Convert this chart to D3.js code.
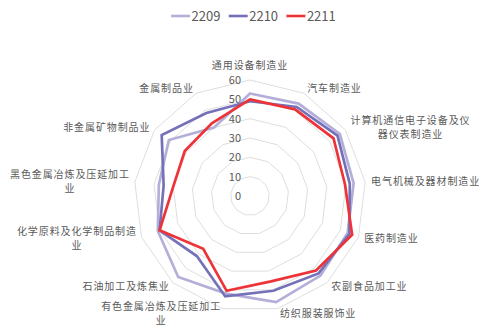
<!DOCTYPE html>
<html>
<head>
<meta charset="utf-8">
<script src="https://cdn.jsdelivr.net/npm/d3@7"></script>
<style>
  html, body { margin: 0; padding: 0; background: #fff; }
  svg { display: block; }
  text { font-family: "Noto Sans CJK SC", "Noto Sans", sans-serif; fill: #595959; }
</style>
</head>
<body>
<svg id="chart" width="480" height="329"></svg>
<script>
// Industry categories, clockwise from the top
const categories = [
  "通用设备制造业",
  "汽车制造业",
  "计算机通信电子设备及仪器仪表制造业",
  "电气机械及器材制造业",
  "医药制造业",
  "农副食品加工业",
  "纺织服装服饰业",
  "有色金属冶炼及压延加工业",
  "石油加工及炼焦业",
  "化学原料及化学制品制造业",
  "黑色金属冶炼及压延加工业",
  "非金属矿物制品业",
  "金属制品业"
];

const seriesNames = ["2209", "2210", "2211"];
const values2209 = [53, 54, 56.5, 54, 54, 55, 56.5, 52, 56, 51, 47.5, 51, 40];
const values2210 = [49, 52, 55, 52, 55, 53.5, 50.5, 53.5, 41.5, 50, 45, 55.5, 48.5];
const values2211 = [50, 50.5, 52.5, 49.5, 56.5, 51.5, 45.5, 50.5, 36.5, 50, 40, 41, 42.5];
const tickValues = [0, 10, 20, 30, 40, 50, 60];

const seriesColors = ["#b3afd9", "#7571b9", "#ee3338"];

const svg = d3.select("#chart");
const cx = 250, cy = 196, outerR = 116;

const r = d3.scaleLinear().domain([0, 60]).range([0, outerR]);
const angle = d3.scaleLinear().domain([0, categories.length]).range([0, 2 * Math.PI]);

const plot = svg.append("g").attr("transform", `translate(${cx},${cy})`);

// Concentric polygon gridlines
const gridLine = d3.lineRadial()
  .angle((d, i) => angle(i))
  .radius(d => r(d))
  .curve(d3.curveLinearClosed);

plot.append("g").selectAll("path")
  .data(tickValues.filter(v => v > 0))
  .join("path")
  .attr("d", v => gridLine(categories.map(() => v)))
  .attr("fill", "none")
  .attr("stroke", "#dedede")
  .attr("stroke-width", 1);

// Value labels along the vertical axis
plot.append("g").selectAll("text")
  .data(tickValues)
  .join("text")
  .attr("x", -9)
  .attr("y", v => -r(v))
  .attr("dy", "0.35em")
  .attr("text-anchor", "end")
  .style("font-size", "11px")
  .text(v => v);

// Series lines
const seriesData = [values2209, values2210, values2211];
const seriesLine = d3.lineRadial()
  .angle((d, i) => angle(i))
  .radius(d => r(d))
  .curve(d3.curveLinearClosed);

plot.append("g").selectAll("path")
  .data(seriesData)
  .join("path")
  .attr("d", d => seriesLine(d))
  .attr("fill", "none")
  .attr("stroke", (d, i) => seriesColors[i])
  .attr("stroke-width", 2.7)
  .attr("stroke-linejoin", "miter");

// Category labels, wrapped into lines of at most 11 characters
const lineChars = 11, charW = 10.9, lineH = 14;
const labelR = outerR + 5;
const labels = plot.append("g");
categories.forEach((name, i) => {
  const a = angle(i);
  const sx = Math.sin(a), cyv = -Math.cos(a);
  const px = labelR * sx, py = labelR * cyv;
  const lines = [];
  for (let k = 0; k < name.length; k += lineChars) lines.push(name.slice(k, k + lineChars));
  const boxW = d3.max(lines, l => l.length) * charW;
  let midX;
  if (sx > 0.1) midX = px + 1 + boxW / 2;
  else if (sx < -0.1) midX = px - boxW / 2;
  else midX = px;
  let midY = py;
  if (Math.abs(sx) <= 0.1) midY = py + cyv * 10;
  const top = midY - (lines.length - 1) * lineH / 2;
  const t = labels.append("text")
    .attr("text-anchor", "middle")
    .style("font-size", "10px")
    .style("letter-spacing", "0.9px");
  lines.forEach((l, j) => {
    t.append("tspan")
      .attr("x", midX)
      .attr("y", top + j * lineH)
      .attr("dy", "0.35em")
      .text(l);
  });
});

// Legend across the top
const legend = svg.append("g").attr("transform", "translate(171,16)");
const item = legend.selectAll("g")
  .data(seriesNames)
  .join("g")
  .attr("transform", (d, i) => `translate(${i * 57.7},0)`);
item.append("line")
  .attr("x1", 0).attr("x2", 19)
  .attr("y1", 0).attr("y2", 0)
  .attr("stroke", (d, i) => seriesColors[i])
  .attr("stroke-width", 2.6);
item.append("text")
  .attr("x", 20.5)
  .attr("dy", "0.35em")
  .style("font-size", "13px")
  .text(d => d);
</script>
</body>
</html>
